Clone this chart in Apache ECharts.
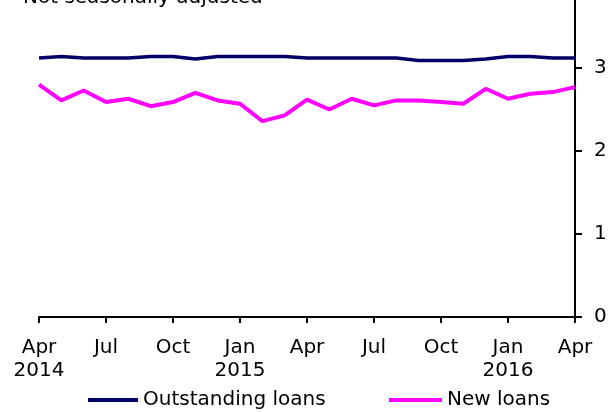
<!DOCTYPE html>
<html>
<head>
<meta charset="utf-8">
<script src="https://cdn.jsdelivr.net/npm/echarts@6/dist/echarts.min.js"></script>
<style>
  html, body { margin: 0; padding: 0; background: #fff; }
  #chart { width: 610px; height: 412px; }
</style>
</head>
<body>
<div id="chart"></div>
<script>
var months = ['2014-04', '2014-05', '2014-06', '2014-07', '2014-08', '2014-09', '2014-10', '2014-11', '2014-12',
    '2015-01', '2015-02', '2015-03', '2015-04', '2015-05', '2015-06', '2015-07', '2015-08', '2015-09',
    '2015-10', '2015-11', '2015-12', '2016-01', '2016-02', '2016-03', '2016-04'];
var tickLabels = {
    '2014-04': 'Apr\n2014', '2014-07': 'Jul', '2014-10': 'Oct',
    '2015-01': 'Jan\n2015', '2015-04': 'Apr', '2015-07': 'Jul', '2015-10': 'Oct',
    '2016-01': 'Jan\n2016', '2016-04': 'Apr'
};
var yTicks = [0, 1, 2, 3];
var outstandingLoans = [3.12, 3.14, 3.12, 3.12, 3.12, 3.14, 3.14, 3.11, 3.14, 3.14, 3.14, 3.14, 3.12,
    3.12, 3.12, 3.12, 3.12, 3.09, 3.09, 3.09, 3.11, 3.14, 3.14, 3.12, 3.12];
var newLoans = [2.80, 2.61, 2.73, 2.59, 2.63, 2.54, 2.59, 2.70, 2.61, 2.57, 2.36, 2.43, 2.62,
    2.50, 2.63, 2.55, 2.61, 2.61, 2.59, 2.57, 2.75, 2.63, 2.69, 2.71, 2.77];

var font = 'DejaVu Sans';
var option = {
    animation: false,
    backgroundColor: '#fff',
    textStyle: { fontFamily: font },
    graphic: [{
        type: 'text',
        left: 23,
        top: -12,
        style: {
            text: 'Not seasonally adjusted',
            font: '20px "DejaVu Sans"',
            fill: '#000'
        }
    }],
    // the picture is cropped at the top: the y axis runs to about 3.82
    grid: { left: 39, right: 35, top: 0, bottom: 95 },
    legend: [{
        data: ['Outstanding loans'],
        left: 88, top: 390, padding: 0,
        icon: 'rect', itemWidth: 50, itemHeight: 4,
        textStyle: { fontFamily: font, fontSize: 20, color: '#000' }
    }, {
        data: ['New loans'],
        left: 389, top: 390, padding: 0,
        icon: 'rect', itemWidth: 53, itemHeight: 4,
        textStyle: { fontFamily: font, fontSize: 20, color: '#000' }
    }],
    xAxis: {
        type: 'category',
        data: months,
        boundaryGap: false,
        axisLine: { lineStyle: { color: '#000', width: 2 } },
        axisTick: { interval: 2, length: 6, lineStyle: { color: '#000', width: 2 } },
        axisLabel: {
            interval: 2,
            margin: 19,
            fontFamily: font,
            fontSize: 20,
            lineHeight: 23,
            color: '#000',
            formatter: function (v) { return tickLabels[v] || ''; }
        },
        splitLine: { show: false }
    },
    yAxis: {
        type: 'value',
        position: 'right',
        min: 0,
        max: 3.82,
        interval: 1,
        axisLine: { show: true, lineStyle: { color: '#000', width: 2 } },
        axisTick: { show: true, length: 7, customValues: yTicks, lineStyle: { color: '#000', width: 2 } },
        axisLabel: { margin: 19, customValues: yTicks, fontFamily: font, fontSize: 20, color: '#000' },
        splitLine: { show: false }
    },
    series: [{
        name: 'Outstanding loans',
        type: 'line',
        data: outstandingLoans,
        showSymbol: false,
        color: '#000066',
        lineStyle: { color: '#000066', width: 3.5 }
    }, {
        name: 'New loans',
        type: 'line',
        data: newLoans,
        showSymbol: false,
        color: '#ff00ff',
        lineStyle: { color: '#ff00ff', width: 4 }
    }]
};

var myChart = echarts.init(document.getElementById('chart'));
myChart.setOption(option);
</script>
</body>
</html>
